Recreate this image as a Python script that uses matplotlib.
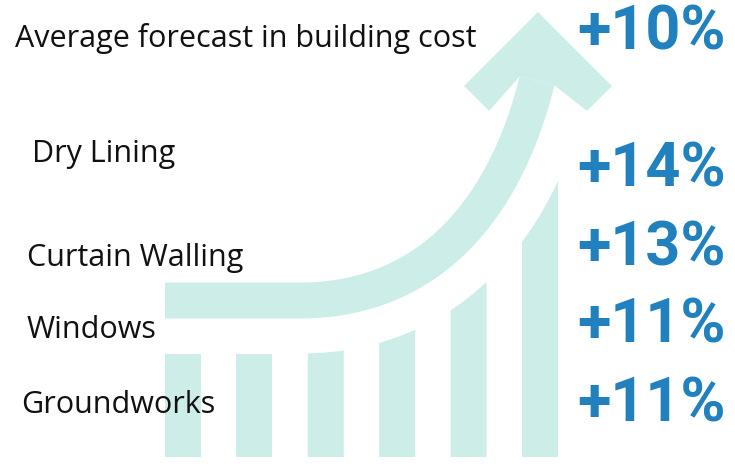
import numpy as np
import matplotlib.pyplot as plt
from matplotlib.patches import Polygon

# cost forecast per trade
categorias = ["Dry Lining", "Curtain Walling", "Windows", "Groundworks"]
subidas = [14, 13, 11, 11]
titulo = "Average forecast in building cost"
media = 10

TEAL = "#cdeee8"
AZUL = "#2181bf"

fig = plt.figure(figsize=(7.35, 4.77), dpi=100)
ax = fig.add_axes([0, 0, 1, 1])
ax.set_xlim(0, 735)
ax.set_ylim(477, 0)
ax.axis("off")

# linea central de la flecha: tramo recto + curva bezier
t = np.linspace(0, 1, 200)
p0, p1, p2, p3 = map(np.array, [(300, 301.5), (420, 301.5), (502, 222), (537, 82)])
curva = ((1 - t) ** 3)[:, None] * p0 + (3 * (1 - t) ** 2 * t)[:, None] * p1 \
    + (3 * (1 - t) * t ** 2)[:, None] * p2 + (t ** 3)[:, None] * p3
recta = np.column_stack([np.linspace(165, 300, 30, endpoint=False), np.full(30, 301.5)])
centro = np.vstack([recta, curva])

d = np.gradient(centro, axis=0)
d /= np.linalg.norm(d, axis=1)[:, None]
normal = np.column_stack([-d[:, 1], d[:, 0]])  # hacia abajo/derecha

ancho = 18
borde_a = centro - normal * ancho
borde_b = centro + normal * ancho
ax.add_patch(Polygon(np.vstack([borde_a, borde_b[::-1]]), closed=True, color=TEAL, lw=0))

# punta de flecha
ea, eb = borde_a[-1], borde_b[-1]
punta = [(538, 13), (612, 87), (587, 112), tuple(eb), tuple(ea), (489, 112), (464, 87)]
ax.add_patch(Polygon(punta, closed=True, color=TEAL, lw=0))

# barras: la parte de arriba sigue la curva desplazada
guia = centro + normal * 53
orden = np.argsort(guia[:, 0])
gx, gy = guia[orden, 0], guia[orden, 1]
base = 458
for x0 in 165 + np.arange(6) * 71.4:
    x1 = x0 + 36
    xs = np.linspace(x0, x1, 20)
    ys = np.interp(xs, gx, gy)
    pts = [(x0, base)] + list(zip(xs, ys)) + [(x1, base)]
    ax.add_patch(Polygon(pts, closed=True, color=TEAL, lw=0))

# textos
fuente = "Open Sans"
ax.text(15, 47, titulo, fontsize=22, family=fuente, color="#111111", va="baseline")
pos_x = [32, 27, 27, 21]
pos_y = [162, 266, 338, 413]
for nombre, x, y in zip(categorias, pos_x, pos_y):
    ax.text(x, y, nombre, fontsize=22, family=fuente, color="#111111", va="baseline")

num_y = [187, 266, 343, 422]
ax.text(726, 50, f"+{media}%", fontsize=44, family="Roboto", weight="bold",
        color=AZUL, ha="right", va="baseline")
for v, y in zip(subidas, num_y):
    ax.text(726, y, f"+{v}%", fontsize=44, family="Roboto", weight="bold",
            color=AZUL, ha="right", va="baseline")

fig.savefig("out.png", dpi=100)
